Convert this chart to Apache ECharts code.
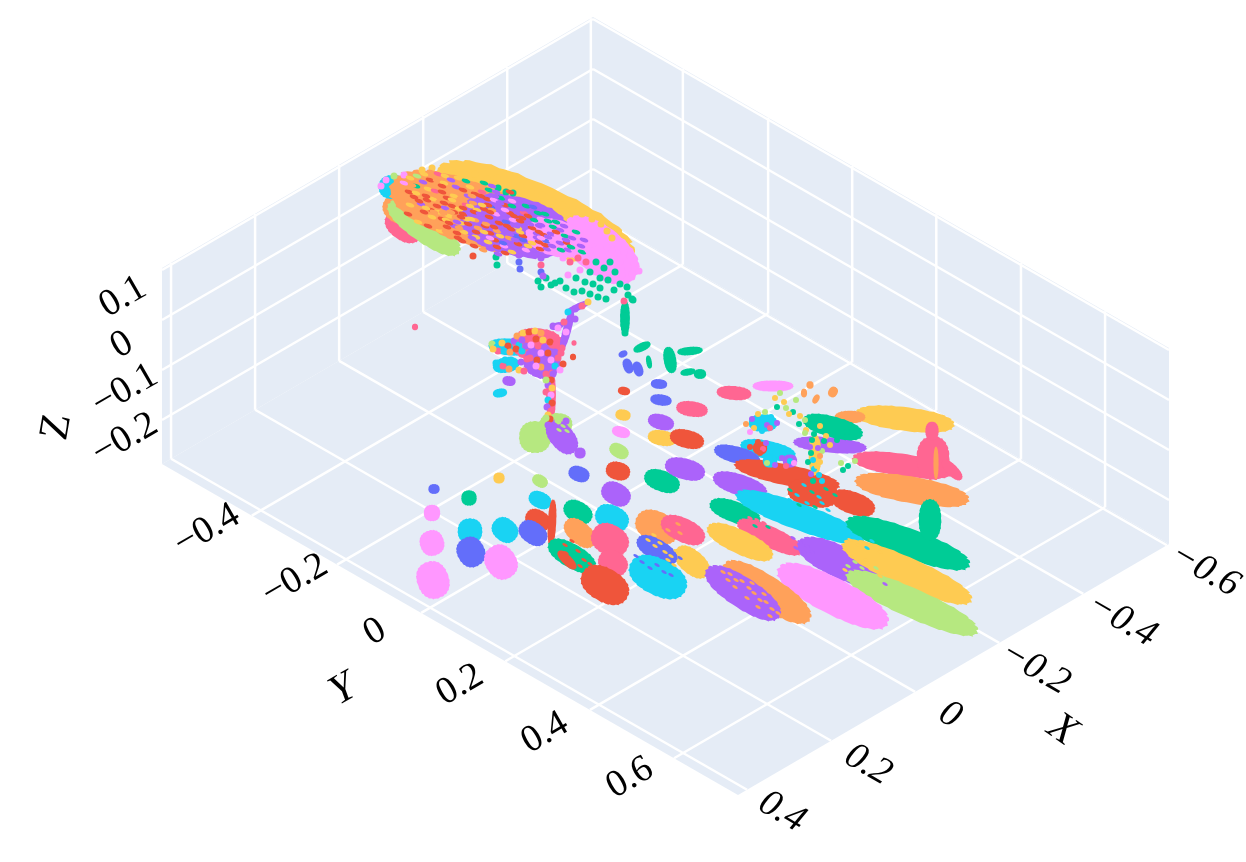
<!DOCTYPE html>
<html><head><meta charset="utf-8">
<style>html,body{margin:0;padding:0;background:#fff}#c{width:1246px;height:862px}</style>
<script src="https://cdn.jsdelivr.net/npm/echarts@6/dist/echarts.min.js"></script>
</head><body><div id="c"></div>
<script>
var palette = ['#636EFA','#EF553B','#00CC96','#AB63FA','#FFA15A','#19D3F3','#FF6692','#B6E880','#FF97FF','#FECB52'];

// scene frame
var floorLeft = [162,464], floorToBack = [431,-251], floorToFront = [576,331], wallHeight = 196;
var xTickT = [0.021,0.216,0.411,0.606,0.801,0.995];
var yTickS = [0.156,0.304,0.450,0.596,0.743,0.889];
var zTickH = [44,94,144,194];

var xTickLabels = [['0.4',782,812],['0.2',868,765],['0',950,715],['\u22120.2',1035,668],['\u22120.4',1122,620],['\u22120.6',1205,570]];
var yTickLabels = [['\u22120.4',207,530],['\u22120.2',295,580],['0',375,632],['0.2',460,685],['0.4',545,733],['0.6',630,778]];
var zTickLabels = [['0.1',123,297],['0',122,345],['\u22120.1',125,390],['\u22120.2',125,439]];
var axisTitles = [['X',1062,730,-35,'italic'],['Y',343,690,30,'italic'],['Z',57,427,80,'normal']];

// clusters: x, y, long extent, short extent, tilt, colour index
var cloudBlobs = [
[535,214,210,44,24,9],[600,250,88,34,38,8],[404,226,40,26,35,6],[398,208,30,26,40,4],[424,228,84,20,35,7],
[393,187,28,22,0,5],[468,212,160,44,20,4],[515,226,110,42,14,3],[556,238,60,26,15,8]
];
var plantBlobs = [
[510,347,42,12,5,5],[506,365,26,11,-10,5],[538,345,50,24,5,6],[542,362,36,30,20,3],[551,395,50,7,90,6],[500,393,14,8,-10,5],[509,381,13,7,10,3],
[567,330,42,6,105,3],[578,307,26,5,-25,3],[557,326,14,5,-15,3],[625,318,34,7,90,2]
];
var backBlobs = [
[415,327,6,6,0,6],[574,343,5,5,0,6],[573,357,6,6,0,1],
[642,347,18,6,-25,2],[670,360,26,9,80,2],[649,362,13,4,80,2],[690,351,25,6,-5,2],[688,372,15,5,-10,2],[700,374,12,9,0,2],
[623,354,9,6,-25,0],[628,366,15,7,70,0],[638,369,15,7,70,0],[659,384,16,7,5,0],[661,400,21,8,8,0],[624,391,12,6,10,1],[623,415,15,8,10,9],[692,409,31,11,8,6],
[661,422,26,11,15,3],[621,432,18,8,15,8],[662,438,28,11,10,9],[687,439,34,13,14,1],[619,451,20,10,30,7],[618,471,24,13,15,1],[616,494,30,16,28,3],[662,481,36,15,20,2],[685,469,40,15,15,3],
[579,474,21,11,20,0],[580,453,11,10,0,3],[535,437,31,29,0,7],[556,424,32,20,0,7],[562,437,38,22,50,3],[540,481,16,11,30,7],[499,478,11,10,0,9],[434,489,11,9,0,0],
[469,498,15,14,0,2],[432,513,16,15,0,8],[540,500,23,15,25,5],[470,531,24,23,0,5],[505,530,27,21,40,5],[432,543,25,22,70,8],[433,580,37,29,70,8],[471,552,30,25,60,0],[501,562,35,28,55,8],
[538,520,26,18,30,1],[533,533,30,20,35,0],[578,512,30,15,30,2],[612,518,34,18,25,5],[580,533,36,20,40,4],[552,523,46,6,93,1],
[610,540,38,28,30,6],[613,563,30,22,30,6],[572,556,52,17,30,2],[567,560,24,7,45,1],[605,585,50,24,30,1],
[657,527,44,22,25,4],[683,530,46,17,25,6],[692,562,40,17,40,9],[657,550,44,15,30,0],[658,577,60,26,27,5]
];
var rightBlobs = [
[734,393,34,10,5,6],[773,386,40,8,0,8],[810,385,7,7,0,4],[804,393,6,8,0,4],[816,399,6,9,30,4],[833,392,9,10,30,4],
[905,419,97,17,7,9],[850,417,30,9,0,4],[830,445,72,11,5,3],[833,427,60,15,15,2],[903,465,100,16,8,6],[933,458,32,40,0,6],[932,431,13,17,0,6],[952,470,26,8,45,6],
[912,490,113,19,10,4],[936,463,5,30,0,4],[768,450,55,13,12,5],[737,455,46,12,15,0],[787,475,105,15,12,1],[813,493,50,20,10,1],[853,503,45,16,20,1],
[740,485,55,15,18,3],[735,512,52,15,20,2],[800,517,133,19,20,5],[908,543,128,21,20,2],[930,520,22,38,0,2],[770,537,70,15,25,6],[740,542,70,17,25,9],
[840,562,90,23,25,3],[907,572,138,21,24,9],[912,603,140,21,24,7],[833,596,120,26,27,8],[767,592,100,23,33,4],[743,593,85,22,33,3],
[815,455,40,9,90,9],[763,423,28,16,0,5],[760,448,14,12,0,1],[770,461,14,12,0,5],[790,461,14,12,0,3]
];

// single scattered marks: x, y, colour index
var cloudMarks = [
[398,190,4],[404,183,8],[410,178,9],[417,176,7],[424,174,9],[431,172,4],[438,174,6],[445,176,9],[409,192,1],[416,186,2],[423,182,3],[430,180,1],[437,181,4],[444,183,9],[451,180,3],[458,178,9],[466,181,2],
[402,201,4],[410,205,9],[414,197,1],[421,193,4],[428,189,9],[435,191,6],[442,192,1],[449,189,4],[456,187,3],[463,190,1],[470,187,9],[477,185,4],[484,183,2],
[408,214,1],[416,212,4],[421,204,3],[427,200,1],[433,199,9],[440,202,4],[447,198,1],[454,196,9],[461,199,4],[468,196,3],[475,194,1],[482,192,6],[489,190,2],[496,192,3],
[418,222,9],[425,217,4],[431,210,1],[438,212,9],[445,208,3],[452,206,1],[459,209,9],[466,205,6],[473,203,4],[480,201,3],[487,199,1],[494,200,8],[501,198,2],[508,198,3],
[428,226,1],[435,222,4],[442,219,1],[449,216,9],[456,218,4],[463,214,1],[470,214,3],[477,210,9],[484,209,1],[491,207,0],[498,206,3],[505,205,1],[512,206,2],[519,204,3],[526,206,2],
[440,231,9],[447,227,1],[454,226,3],[461,223,9],[468,224,1],[475,220,4],[482,218,3],[489,217,1],[496,214,8],[503,214,3],[510,213,1],[517,212,3],[524,213,6],[531,212,3],[538,213,2],
[450,237,4],[457,233,1],[464,232,9],[471,230,3],[478,228,4],[485,226,1],[492,224,3],[499,223,1],[506,222,0],[513,220,8],[520,221,1],[527,219,3],[534,220,2],[541,219,8],[548,221,2],
[462,241,1],[469,239,4],[476,237,9],[483,235,3],[490,233,1],[497,231,4],[504,231,3],[511,229,1],[518,228,9],[525,227,3],[532,228,1],[539,226,3],[546,228,8],[553,227,2],[560,230,3],
[474,246,1],[481,243,3],[488,242,9],[495,240,1],[502,239,3],[509,238,4],[516,236,0],[523,236,1],[530,235,8],[537,234,3],[544,235,1],[551,234,3],[558,236,8],[565,236,2],[572,238,3],
[483,250,4],[490,249,3],[497,247,1],[504,246,8],[511,245,3],[518,244,1],[525,243,3],[532,243,9],[539,242,1],[546,241,0],[553,242,8],[560,243,3],[567,243,1],[574,244,8],[581,246,3],
[498,254,3],[505,253,1],[512,252,9],[519,251,3],[526,250,8],[533,250,3],[540,249,1],[547,249,3],[554,249,8],[561,250,2],[568,250,3],[575,251,8],[582,252,2],[589,252,8],
[452,200,9],[474,212,1],[486,224,4],[470,206,9],[516,226,3],[528,216,1],[500,236,9],[481,196,1],[446,220,9],[523,240,0],[539,232,1],[459,228,4],[492,210,4],[507,226,1],[548,237,3],
[412,185,4],[419,201,1],[426,208,9],[437,206,1],[432,217,9],[443,213,4],[449,223,1],[438,227,4],[457,222,3],[463,208,1],[480,214,3],[472,196,4],[488,205,1],[495,196,3],[505,210,8],[514,216,1],[521,209,3],[533,207,0],[541,225,3],[556,232,1],[566,240,3],[571,247,2],[545,245,1],[537,238,3],[528,246,9],[515,240,3],[503,243,0],[490,238,8],[476,232,1],[466,219,9],[454,212,1],[442,186,1],[460,184,4],[472,179,9],[492,186,3],[510,192,1],
[416,193,9],[426,196,1],[436,196,4],[444,203,1],[451,212,4],[461,217,1],[471,219,9],[482,205,9],[490,212,1],[500,203,3],[512,201,8],[522,218,1],[530,224,3],[545,214,2],[556,222,2],[564,226,3],[576,232,2],[584,240,3],[592,245,8],[541,238,8],[552,246,3],[520,232,9],[510,234,3],[494,227,1],[484,232,9],[472,238,3],[458,238,1],[446,232,4],[434,212,4],[424,212,1]
];
var topBandDots = [
[422,170,9],[432,168,9],[441,170,9],[452,171,9],[463,173,9],[475,174,9],[487,179,9],[497,178,9],[508,184,9],[520,186,9],[531,192,9],[542,195,9],[552,201,9],[562,205,9],[572,210,9],[582,214,9],[592,219,9],[601,224,9],[607,231,9],[612,238,9],[506,192,2],[498,188,2],[513,193,2],[404,175,8],[394,176,7],[386,180,8],[381,186,8],
[618,247,8],[612,250,8],[624,252,8],[630,256,8],[634,263,8],[639,271,8],[628,268,8],[620,262,8],[614,259,8],[607,247,8],[632,274,8],[622,275,8],[603,256,8],
[610,262,2],[604,268,2],[596,262,2],[586,262,6],[578,258,6],[563,258,8],[570,262,6],[580,270,8],[590,272,2],[600,278,2],[615,272,2],[608,280,2],[620,284,2],[627,287,2],[593,284,2],[585,282,2],[576,278,2],[568,275,8],[560,281,2],[566,288,2],[574,292,2],[582,291,2],[590,294,2],[598,297,2],[606,299,2],[614,290,2],[600,288,2],[628,295,2],[632,299,2],
[546,278,2],[538,281,2],[541,287,2],[551,285,2],[555,283,2],[633,300,2],
[473,256,1],[496,257,2],[497,265,2],[519,255,3],[519,262,0],[520,269,0],[541,258,3],[541,265,6],[541,272,0],[543,276,3],[624,301,6],[625,309,2],[624,316,2],[624,325,2],[625,333,2],
[568,312,5],[575,309,3],[582,306,6],[588,302,9],[571,318,3],[568,325,3],[566,332,8],[564,340,3],[562,348,6],[558,355,3],[553,326,3],[558,328,8],[564,322,6],[575,319,3]
];
var plantMarks = [
[492,344,7],[497,347,5],[502,343,9],[508,346,1],[514,341,3],[519,345,5],[498,351,6],[504,351,5],[510,352,4],[516,349,1],[522,351,5],[526,346,3],[493,349,9],
[517,336,4],[523,333,9],[529,332,1],[535,331,9],[541,333,4],[522,340,3],[529,339,6],[536,339,1],[543,340,9],[531,345,8],[538,346,6],[545,347,3],[550,342,1],[556,345,6],
[534,352,3],[541,353,8],[548,353,1],[555,352,3],[561,353,6],[530,358,6],[537,360,1],[544,360,3],[551,360,8],[558,358,6],[563,364,1],[541,367,4],[548,367,3],[555,366,5],[536,366,8],[546,374,6],[553,374,3],[560,370,8],[551,380,1],
[496,363,5],[503,366,6],[509,369,4],[515,364,5],[521,362,3],[527,359,6],[511,360,5],[519,370,9],[524,371,6],[505,360,5],
[548,385,3],[552,388,9],[546,392,6],[551,395,8],[548,400,5],[552,403,1],[547,407,3],[551,411,6],[548,415,9],[550,419,1],[546,380,7],
[548,425,3],[558,421,7],[566,421,3],[546,418,7]
];
var treeMarks = [
[752,419,3],[758,414,9],[765,412,7],[771,417,5],[760,423,5],[767,425,3],[754,428,9],[762,431,5],[770,428,6],[746,424,4],[777,423,3],[750,432,8],
[750,447,1],[758,442,1],[763,449,6],[766,443,3],[760,453,1],[770,458,5],[767,463,7],[775,465,3],[782,458,3],[790,461,5],[786,466,6],[794,463,8],
[775,398,9],[780,393,7],[784,402,9],[777,407,2],[796,400,7],[793,412,2],[800,416,9],[805,420,7],[812,424,2],[806,430,9],[820,426,9],[814,434,2],[826,436,9],[817,442,9],[822,451,7],[810,447,3],[816,456,9],[808,462,2],[820,462,9],[814,469,5],[811,474,3],[819,475,5],[813,481,2],[822,481,5],[805,433,7],[830,445,9],[841,463,7],[848,466,2],[855,461,7],[843,470,2],[837,440,2],[847,432,2],
[812,440,2],[818,448,3],[811,453,2],[820,456,4],[813,460,5],[817,466,9],[799,424,2],[789,414,9],[786,408,7],[824,441,2]
];
var floorMarks = [
[723,572,4],[730,574,4],[736,580,4],[742,581,4],[735,587,4],[749,588,4],[754,593,4],[747,598,4],[760,600,4],[766,602,4],[758,607,4],[772,609,4],[778,613,4],[741,572,4],[728,580,4],[752,583,4],[764,594,4],[770,616,4],
[648,540,9],[655,546,9],[660,543,9],[665,552,9],[671,556,9],[676,551,9],[668,560,9],[674,565,9],[654,535,9],[661,557,0],[680,558,0],
[642,562,0],[650,568,0],[657,565,0],[664,572,0],[671,575,0],[636,556,0],
[667,520,6],[673,526,6],[668,530,4],[678,524,4],[674,533,6],[664,525,6],[680,533,4],
[848,566,7],[855,562,7],[862,568,7],[870,574,7],[858,574,7],[866,560,9],[876,568,7],[845,570,9],[880,576,9],[873,581,7],[852,557,9],[885,584,3],
[750,518,6],[757,520,6],[764,523,6],[746,522,6],[768,527,2],[755,526,2],
[793,538,3],[800,542,3],[807,546,3],[796,548,3],[804,552,3],[812,552,3],
[850,540,9],[858,545,9],[867,548,5],[860,538,5],[872,541,5],[880,552,9],[845,548,9],
[790,490,2],[797,495,5],[804,485,5],[812,492,2],[819,497,5],[826,489,2],[799,505,2],[807,503,5],[815,507,2],[822,503,5],[835,495,2],[790,500,5],[828,510,5],
[565,545,1],[572,541,1],[578,551,1],[584,560,1],[590,564,1],[580,566,1],[566,553,1],[574,555,2],
[555,424,3],[563,426,7],[559,430,7],[567,431,7]
];

var order = cloudBlobs.concat(plantBlobs, backBlobs, rightBlobs);

// cluster outline: a rounded lens with a scalloped edge, as a symbol shape
function clusterSymbol() {
  var n = 90, e = 2 / 2.3, d = [];
  for (var i = 0; i < n; i++) {
    var a = i / n * Math.PI * 2, c = Math.cos(a), s = Math.sin(a);
    var r = 1 + 0.018 * Math.sin(a * 23) + 0.012 * Math.sin(a * 41);
    var x = 50 + 50 * r * (c < 0 ? -1 : 1) * Math.pow(Math.abs(c), e);
    var y = 50 + 50 * r * (s < 0 ? -1 : 1) * Math.pow(Math.abs(s), e);
    d.push((i ? 'L' : 'M') + x.toFixed(2) + ' ' + y.toFixed(2));
  }
  return 'path://' + d.join('') + 'Z';
}
var blobSymbol = clusterSymbol();

function project(t, s, h) {
  return [floorLeft[0] + t*floorToBack[0] + s*floorToFront[0], floorLeft[1] + t*floorToBack[1] + s*floorToFront[1] - h];
}
function seg(a, b) { return a.concat(b); }

var panelRows = [
  [0,0,0, 1,0,0, 1,0,1, 0,0,1],
  [1,0,0, 1,1,0, 1,1,1, 1,0,1],
  [0,0,0, 0,1,0, 1,1,0, 1,0,0]
].map(function (r) {
  var out = [];
  for (var i = 0; i < 12; i += 3) out = out.concat(project(r[i], r[i+1], r[i+2]*wallHeight));
  return out;
});
var gridRows = [];
xTickT.forEach(function (t) {
  gridRows.push(seg(project(t,0,0), project(t,1,0)));
  gridRows.push(seg(project(t,0,0), project(t,0,wallHeight)));
});
yTickS.forEach(function (s) {
  gridRows.push(seg(project(0,s,0), project(1,s,0)));
  gridRows.push(seg(project(1,s,0), project(1,s,wallHeight)));
});
zTickH.forEach(function (h) {
  gridRows.push(seg(project(0,0,h), project(1,0,h)));
  gridRows.push(seg(project(1,0,h), project(1,1,h)));
});

function markSeries(rows, w, h, rot) {
  return {
    type:'scatter', data: rows, silent:true, symbol:'circle',
    symbolSize: h ? [w,h] : w, symbolRotate: rot || 0,
    itemStyle:{ opacity:1, color:function (p) { return palette[p.data[2]]; } }
  };
}
function labelSeries(rows, size, rot, style) {
  return {
    type:'scatter', silent:true, symbolSize:0, itemStyle:{opacity:1},
    data: rows.map(function (r) {
      return { value:[r[1],r[2]], label:{ show:true, position:'inside', formatter:r[0],
        rotate: r[3] !== undefined ? r[3] : rot, fontStyle: r[4] || style, opacity:1,
        textBorderWidth:0, fontSize:size, fontFamily:'"Liberation Serif", serif', color:'#000' } };
    })
  };
}

var chart = echarts.init(document.getElementById('c'), null, {renderer:'canvas'});
chart.setOption({
  animation:false, backgroundColor:'#fff',
  grid:{left:0,right:0,top:0,bottom:0},
  xAxis:{type:'value',min:0,max:1246,show:false},
  yAxis:{type:'value',min:0,max:862,inverse:true,show:false},
  series:[
    {type:'custom',silent:true,data:panelRows,renderItem:function (p, api) {
      var pts=[]; for (var i=0;i<4;i++) pts.push(api.coord([api.value(i*2),api.value(i*2+1)]));
      return {type:'polygon',shape:{points:pts},style:{fill:'#E5ECF6'}};
    },encode:{x:0,y:1},dimensions:['a','b','c','d','e','f','g','h']},
    {type:'custom',silent:true,data:gridRows,renderItem:function (p, api) {
      var a=api.coord([api.value(0),api.value(1)]), b=api.coord([api.value(2),api.value(3)]);
      return {type:'line',shape:{x1:a[0],y1:a[1],x2:b[0],y2:b[1]},style:{stroke:'#fff',lineWidth:2.5}};
    },encode:{x:0,y:1}},
    {type:'scatter',silent:true,
      data:order.map(function (b) {
        var k = b[2] > 1.8 * b[3] ? 1.4 : 1.1;
        return { value:[b[0],b[1]], symbol:blobSymbol, symbolSize:[b[2]*1.04,b[3]*k], symbolRotate:-b[4],
          itemStyle:{color:palette[b[5]],opacity:1} }; })},
    markSeries(topBandDots,7),
    markSeries(cloudMarks,9,4,-20),
    markSeries(plantMarks,7),
    markSeries(treeMarks,6),
    markSeries(floorMarks,6,3,-30),
    labelSeries(xTickLabels,38,-30,'italic'),
    labelSeries(yTickLabels,38,30,'normal'),
    labelSeries(zTickLabels,38,30,'normal'),
    labelSeries(axisTitles,42,0,'normal')
  ]
});
</script></body></html>
